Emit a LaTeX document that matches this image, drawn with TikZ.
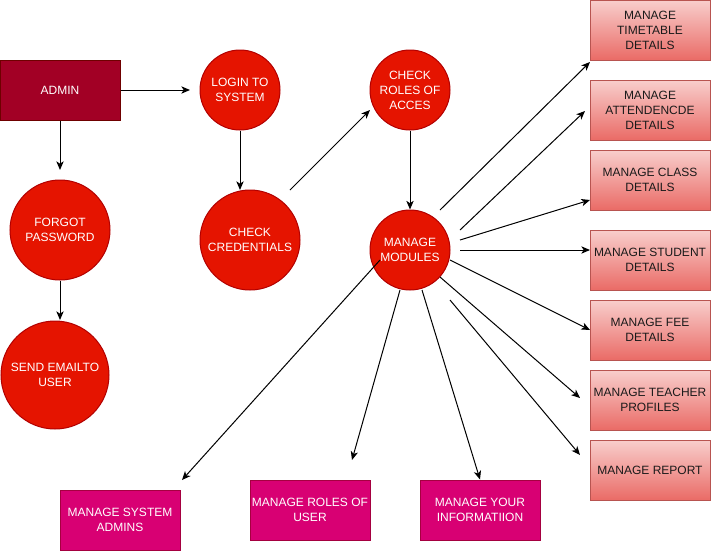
\documentclass[tikz,border=0pt]{standalone}
\usepackage{fontspec}
\setmainfont{Liberation Sans}
\usetikzlibrary{arrows.meta}

\definecolor{adminfill}{HTML}{A20025}
\definecolor{adminline}{HTML}{6F0000}
\definecolor{redfill}{HTML}{E51400}
\definecolor{redline}{HTML}{B20000}
\definecolor{modtop}{HTML}{F8CECC}
\definecolor{modbottom}{HTML}{EA6B66}
\definecolor{modline}{HTML}{B85450}
\definecolor{subfill}{HTML}{D80073}
\definecolor{subline}{HTML}{A50040}
\definecolor{modtext}{HTML}{1A1A1A}

\tikzset{
  base/.style={font=\fontsize{9}{11.25}\selectfont, align=center, inner sep=0pt, line width=0.75pt},
  adminbox/.style={base, rectangle, draw=adminline, fill=adminfill, text=white,
                   minimum width=90pt, minimum height=45pt},
  proc/.style={base, circle, draw=redline, fill=redfill, text=white},
  modbox/.style={base, rectangle, draw=modline, top color=modtop, bottom color=modbottom,
                 text=modtext, minimum width=90pt, minimum height=45pt},
  subbox/.style={base, rectangle, draw=subline, fill=subfill, text=white,
                 minimum width=90pt, minimum height=45pt},
  link/.style={draw=black, line width=0.75pt, -{Stealth[length=6.5pt,width=5.5pt,inset=1.8pt]}}
}

\begin{document}
\begin{tikzpicture}[x=0.75pt,y=-0.75pt]
  \useasboundingbox (0,0) rectangle (711,551);

  % entry point and login chain
  \node[adminbox] (admin) at (60,90) {ADMIN};
  \node[proc, minimum size=60pt] (login) at (240,90) {LOGIN TO\\SYSTEM};
  \node[proc, minimum size=75pt] (cred) at (250,240) {CHECK\\CREDENTIALS};
  \node[proc, minimum size=75pt] (forgot) at (60,230) {FORGOT\\PASSWORD};
  \node[proc, minimum size=81pt] (send) at (55,375) {SEND EMAILTO\\USER};
  \node[proc, minimum size=60pt] (roles) at (410,90) {CHECK\\ROLES OF\\ACCES};
  \node[proc, minimum size=60pt] (modules) at (410,250) {MANAGE\\MODULES};

  % module boxes on the right
  \node[modbox] (timetable) at (650,30)  {MANAGE\\TIMETABLE\\DETAILS};
  \node[modbox] (attend)    at (650,110) {MANAGE\\ATTENDENCDE\\DETAILS};
  \node[modbox] (class)     at (650,180) {MANAGE CLASS\\DETAILS};
  \node[modbox] (student)   at (650,260) {MANAGE STUDENT\\DETAILS};
  \node[modbox] (fee)       at (650,330) {MANAGE FEE\\DETAILS};
  \node[modbox] (teacher)   at (650,400) {MANAGE TEACHER\\PROFILES};
  \node[modbox] (report)    at (650,470) {MANAGE REPORT};

  % admin boxes at the bottom
  \node[subbox] (sysadmins) at (120,520) {MANAGE SYSTEM\\ADMINS};
  \node[subbox] (userroles) at (310,510) {MANAGE ROLES OF\\USER};
  \node[subbox] (yourinfo)  at (480,510) {MANAGE YOUR\\INFORMATIION};

  % free connector ends
  \coordinate (loginin)  at (190,90);
  \coordinate (forgotin) at (60,170);
  \coordinate (credin)   at (240,190);
  \coordinate (sendin)   at (60,320);
  \coordinate (credout)  at (290,190);
  \coordinate (rolesin)  at (370,110);
  \coordinate (ttout)    at (440,210);
  \coordinate (ttin)     at (590,62);
  \coordinate (attout)   at (460,230);
  \coordinate (attin)    at (585,111);
  \coordinate (clsout)   at (460,240);
  \coordinate (clsin)    at (590,200);
  \coordinate (stuout)   at (460,250);
  \coordinate (stuin)    at (590,250);
  \coordinate (feeout)   at (450,260);
  \coordinate (feein)    at (590,330);
  \coordinate (teaout)   at (440,277);
  \coordinate (teain)    at (580,398);
  \coordinate (repout)   at (450,300);
  \coordinate (repin)    at (580,455);
  \coordinate (sysout)   at (380,260);
  \coordinate (sysin)    at (182,480);
  \coordinate (rouout)   at (400,290);
  \coordinate (rouin)    at (352,460);
  \coordinate (infout)   at (422,290);

  % connectors
  \draw[link] (admin.east) -- (loginin);
  \draw[link] (admin.south) -- (forgotin);
  \draw[link] (login.south) -- (credin);
  \draw[link] (forgot.south) -- (sendin);
  \draw[link] (credout) -- (rolesin);
  \draw[link] (roles.south) -- (modules.north);
  \draw[link] (ttout) -- (ttin);
  \draw[link] (attout) -- (attin);
  \draw[link] (clsout) -- (clsin);
  \draw[link] (stuout) -- (stuin);
  \draw[link] (feeout) -- (feein);
  \draw[link] (teaout) -- (teain);
  \draw[link] (repout) -- (repin);
  \draw[link] (sysout) -- (sysin);
  \draw[link] (rouout) -- (rouin);
  \draw[link] (infout) -- (yourinfo.north);
\end{tikzpicture}
\end{document}
